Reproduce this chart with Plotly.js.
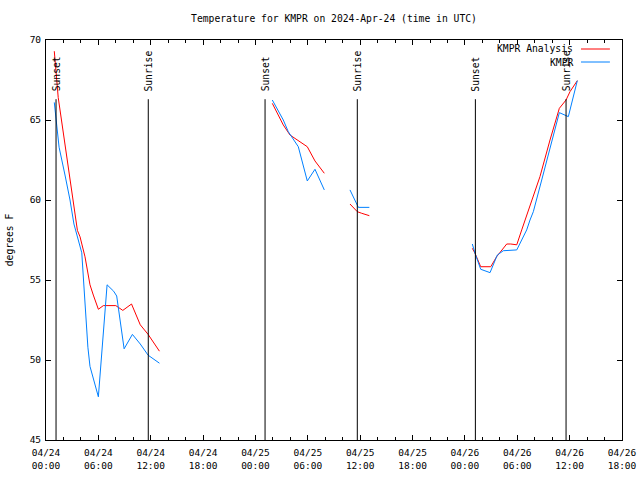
<!DOCTYPE html>
<html>
<head>
<meta charset="utf-8">
<script src="https://cdn.plot.ly/plotly-3.0.1.min.js"></script>
<style>html,body{margin:0;padding:0;background:#fff;}</style>
</head>
<body>
<div id="chart" style="width:640px;height:480px;"></div>
<script>
// Hours since 2024-04-24 00:00 UTC
const tickHours = [0, 6, 12, 18, 24, 30, 36, 42, 48, 54, 60, 66];
const tickLabels = ['04/24<br>00:00', '04/24<br>06:00', '04/24<br>12:00', '04/24<br>18:00',
                    '04/25<br>00:00', '04/25<br>06:00', '04/25<br>12:00', '04/25<br>18:00',
                    '04/26<br>00:00', '04/26<br>06:00', '04/26<br>12:00', '04/26<br>18:00'];

const analysisHours = [0.95, 1.4, 3.6, 3.9, 4.47, 5.04, 5.42, 6.0, 6.57, 8.0, 8.8, 9.8, 10.8, 11.7, 13.0, null,
  25.93, 27.19, 27.96, 29.1, 29.94, 30.82, 31.89, null,
  34.83, 35.67, 36.17, 37.05, null,
  48.85, 49.16, 49.81, 50.96, 51.64, 52.02, 52.79, 53.25, 53.94, 54.51, 54.89, 55.46, 56.6, 57.75, 58.82, 59.59, 60.04, 60.88];
const analysisTemps = [69.3, 66.4, 58.1, 57.7, 56.45, 54.7, 54.06, 53.17, 53.4, 53.4, 53.1, 53.5, 52.2, 51.6, 50.55, null,
  66.04, 64.69, 64.06, 63.65, 63.33, 62.44, 61.67, null,
  59.75, 59.27, 59.17, 59.02, null,
  56.98, 56.67, 55.83, 55.83, 56.46, 56.7, 57.25, 57.25, 57.2, 58.13, 58.75, 59.58, 61.46, 63.75, 65.73, 66.25, 66.77, 67.46];

const obsHours = [0.95, 1.2, 1.5, 2.2, 2.75, 3.2, 4.1, 4.3, 4.8, 5.04, 6.0, 7.0, 7.75, 8.1, 8.95, 9.9, 10.8, 11.7, 13.0, null,
  25.93, 27.19, 27.76, 28.91, 29.94, 30.82, 31.89, null,
  34.83, 35.67, 35.79, 37.05, null,
  48.85, 49.16, 49.81, 50.88, 51.71, 52.4, 53.94, 55.08, 55.46, 55.84, 56.8, 57.95, 58.82, 59.85, 60.88];
const obsTemps = [66.1, 64.6, 63.3, 61.5, 60.0, 58.5, 56.7, 55.0, 50.8, 49.6, 47.7, 54.7, 54.3, 54.0, 50.7, 51.6, 51.0, 50.3, 49.8, null,
  66.25, 65.0, 64.27, 63.33, 61.19, 61.92, 60.63, null,
  60.63, 59.64, 59.54, 59.54, null,
  57.25, 56.67, 55.67, 55.46, 56.56, 56.83, 56.88, 58.13, 58.75, 59.27, 61.25, 63.75, 65.46, 65.21, 67.46];

const sunsetHours = [1.15, 25.1, 49.2];
const sunriseHours = [11.72, 35.67, 59.59];
const sunLineTop = 66.3;

const FONT = 'DejaVu Sans Mono';
const shapes = [];
const annotations = [];
function sunMark(h, label) {
  shapes.push({type: 'line', xref: 'x', yref: 'y', x0: h, x1: h, y0: 45, y1: sunLineTop,
               line: {color: '#000', width: 1}});
  annotations.push({text: label, xref: 'x', yref: 'y', x: h, y: sunLineTop + 0.4,
                    textangle: -90, xanchor: 'center', yanchor: 'bottom', showarrow: false,
                    font: {family: FONT, size: 9.7, color: '#000'}, borderpad: 0});
}
sunsetHours.forEach(h => sunMark(h, 'Sunset'));
sunriseHours.forEach(h => sunMark(h, 'Sunrise'));

// Gnuplot-style legend (text then sample line)
const legendItems = [['KMPR Analysis', '#ff0000', 0.9775], ['KMPR', '#0080ff', 0.945]];
legendItems.forEach(([t, c, y]) => {
  annotations.push({text: t, xref: 'paper', yref: 'paper', x: 0.917, y: y, xanchor: 'right', yanchor: 'middle',
                    showarrow: false, font: {family: FONT, size: 9.7, color: '#000'}, borderpad: 0});
  shapes.push({type: 'line', xref: 'paper', yref: 'paper', x0: 0.9288, x1: 0.979, y0: y, y1: y,
               line: {color: c, width: 1}});
});

const traces = [
  {x: analysisHours, y: analysisTemps, mode: 'lines', name: 'KMPR Analysis',
   line: {color: '#ff0000', width: 1}, connectgaps: false},
  {x: obsHours, y: obsTemps, mode: 'lines', name: 'KMPR',
   line: {color: '#0080ff', width: 1}, connectgaps: false}
];

const layout = {
  width: 640, height: 480,
  margin: {l: 46, r: 18, t: 40, b: 40, pad: 0},
  paper_bgcolor: '#fff', plot_bgcolor: '#fff',
  showlegend: false,
  font: {family: FONT, size: 9.7, color: '#000'},
  title: {text: 'Temperature for KMPR on 2024-Apr-24 (time in UTC)', x: 0.5, xref: 'paper',
          y: 1 - 19 / 480, yref: 'container', yanchor: 'middle', font: {family: FONT, size: 9.7, color: '#000'}},
  xaxis: {range: [0, 66], tickmode: 'array', tickvals: tickHours, ticktext: tickLabels,
          ticks: 'inside', ticklen: 5, tickcolor: '#000', tickwidth: 1,
          showline: true, linecolor: '#000', linewidth: 1, mirror: 'ticks',
          showgrid: false, zeroline: false, ticklabelstandoff: 4,
          tickfont: {family: FONT, size: 9.5, color: '#000'},
          minor: {tickmode: 'linear', tick0: 0, dtick: 2, ticks: 'inside', ticklen: 3, tickcolor: '#000', showgrid: false}},
  yaxis: {range: [45, 70], dtick: 5, tick0: 45,
          ticks: 'inside', ticklen: 5, tickcolor: '#000', tickwidth: 1,
          showline: true, linecolor: '#000', linewidth: 1, mirror: 'ticks',
          showgrid: false, zeroline: false, ticklabelstandoff: 2,
          tickfont: {family: FONT, size: 9.5, color: '#000'},
          title: {text: 'degrees F', font: {family: FONT, size: 9.7, color: '#000'}, standoff: 14}},
  shapes: shapes,
  annotations: annotations
};

Plotly.newPlot('chart', traces, layout, {displayModeBar: false, staticPlot: true});
</script>
</body>
</html>
